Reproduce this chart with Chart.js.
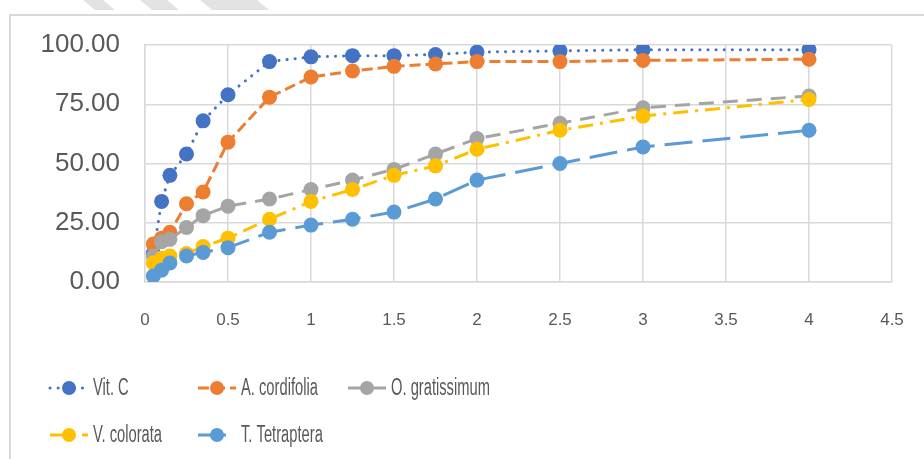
<!DOCTYPE html>
<html>
<head>
<meta charset="utf-8">
<script src="https://cdn.jsdelivr.net/npm/chart.js@4"></script>
<style>
	html, body { margin: 0; padding: 0; background: #fff; }
	#box { width: 924px; height: 459px; position: relative; }
</style>
</head>
<body>
<div id="box"><canvas id="chart" width="924" height="459"></canvas></div>
<script>
// concentration (x) and % inhibition for each extract
const conc = [0.05, 0.1, 0.15, 0.25, 0.35, 0.5, 0.75, 1, 1.25, 1.5, 1.75, 2, 2.5, 3, 4];
const vitC = [12, 34, 45, 54, 68, 79, 93, 95, 95.5, 95.5, 96, 97, 97.5, 98, 98];
const cordifolia = [16, 18.5, 21, 33, 38, 59, 78, 86.5, 89, 91, 92, 93, 93, 93.5, 94];
const gratissimum = [11, 17, 18, 23, 28, 32, 35, 39, 43, 47.5, 54, 60.5, 67, 73.5, 78.5];
const colorata = [8, 10, 11, 12, 15, 18.5, 26.5, 34, 39, 45, 49, 56, 64, 70, 77];
const tetraptera = [2.5, 5, 8, 11, 12.5, 14.5, 21, 24, 26.5, 29.5, 35, 43, 50, 57, 64];
const seriesNames = ["Vit. C", "A. cordifolia", "O. gratissimum", "V. colorata", "T. Tetraptera"];
const xTicks = [0, 0.5, 1, 1.5, 2, 2.5, 3, 3.5, 4, 4.5];
const yTicks = [0, 25, 50, 75, 100];

const gridColor = '#d9d9d9';
const textColor = '#595959';

function pts(ys) {
	return conc.map((x, i) => ({ x: x, y: ys[i] }));
}

function ds(label, ys, color, dash, cap, order) {
	return {
		label: label,
		data: pts(ys),
		showLine: true,
		tension: 0,
		borderColor: color,
		backgroundColor: color,
		borderWidth: 3,
		borderDash: dash,
		borderCapStyle: cap,
		pointRadius: 7.5,
		pointHoverRadius: 7.5,
		pointBorderWidth: 0,
		pointBackgroundColor: color,
		order: order
	};
}

// frame, watermark and Excel-style legend
const decor = {
	id: 'decor',
	beforeDraw(chart) {
		const c = chart.ctx;
		c.save();
		c.fillStyle = '#e3e3e3';
		[[83, 103], [140, 167], [200, 257]].forEach(s => {
			c.beginPath();
			c.moveTo(s[0], 0);
			c.lineTo(s[1], 0);
			c.lineTo(s[1] + 12, 10);
			c.lineTo(s[0] + 12, 10);
			c.closePath();
			c.fill();
		});
		c.strokeStyle = gridColor;
		c.lineWidth = 2;
		c.strokeRect(10, 15, 1000, 1000);
		c.restore();
	},
	afterDraw(chart) {
		const c = chart.ctx;
		const cols = [50, 198, 348];
		const rows = [388, 435];
		c.save();
		chart.data.datasets.forEach((d, i) => {
			const x = cols[i % 3];
			const y = rows[Math.floor(i / 3)];
			c.strokeStyle = d.borderColor;
			c.lineWidth = 3;
			c.lineCap = d.borderCapStyle;
			c.setLineDash(d.borderDash);
			c.beginPath();
			c.moveTo(x, y);
			c.lineTo(x + 38, y);
			c.stroke();
			c.setLineDash([]);
			c.fillStyle = d.borderColor;
			c.beginPath();
			c.arc(x + 19, y, 7, 0, Math.PI * 2);
			c.fill();
			c.fillStyle = textColor;
			c.font = '23px "Liberation Sans", Arial';
			c.textBaseline = 'middle';
			c.translate(x + 43, y);
			c.scale(0.64, 1);
			c.fillText(d.label, 0, 1);
			c.setTransform(chart.currentDevicePixelRatio, 0, 0, chart.currentDevicePixelRatio, 0, 0);
		});
		c.restore();
	}
};

const ctx = document.getElementById('chart').getContext('2d');
const myChart = new Chart(ctx, {
	type: 'scatter',
	data: {
		datasets: [
			ds(seriesNames[0], vitC, '#4472C4', [0.1, 8], 'round', 5),
			ds(seriesNames[1], cordifolia, '#ED7D31', [11, 5], 'butt', 4),
			ds(seriesNames[2], gratissimum, '#A5A5A5', [15, 9], 'butt', 3),
			ds(seriesNames[3], colorata, '#FFC000', [15, 7, 3, 7], 'butt', 2),
			ds(seriesNames[4], tetraptera, '#5B9BD5', [28, 10], 'butt', 1)
		]
	},
	options: {
		responsive: false,
		animation: false,
		devicePixelRatio: 1,
		layout: { padding: { left: 0, top: 45, right: 32, bottom: 117 } },
		plugins: {
			legend: { display: false },
			tooltip: { enabled: false }
		},
		scales: {
			x: {
				type: 'linear',
				min: 0,
				max: 4.5,
				afterFit: s => { s.height = 60; s.paddingRight = 0; s.paddingLeft = 0; },
				afterBuildTicks: s => { s.ticks = xTicks.map(v => ({ value: v })); },
				grid: { color: gridColor, lineWidth: 1.5, drawTicks: false },
				border: { color: gridColor, width: 1.5 },
				ticks: {
					color: textColor,
					padding: 28,
					maxRotation: 0,
					font: { family: '"Liberation Sans Narrow", "Liberation Sans", Arial', size: 17 },
					callback: v => String(v)
				}
			},
			y: {
				min: 0,
				max: 100,
				afterFit: s => { s.width = 145; },
				afterBuildTicks: s => { s.ticks = yTicks.map(v => ({ value: v })); },
				grid: { color: gridColor, lineWidth: 1.5, drawTicks: false },
				border: { color: gridColor, width: 1.5 },
				ticks: {
					color: textColor,
					padding: 25,
					font: { family: '"Liberation Sans", Arial', size: 26 },
					callback: v => v.toFixed(2)
				}
			}
		}
	},
	plugins: [decor]
});
</script>
</body>
</html>
